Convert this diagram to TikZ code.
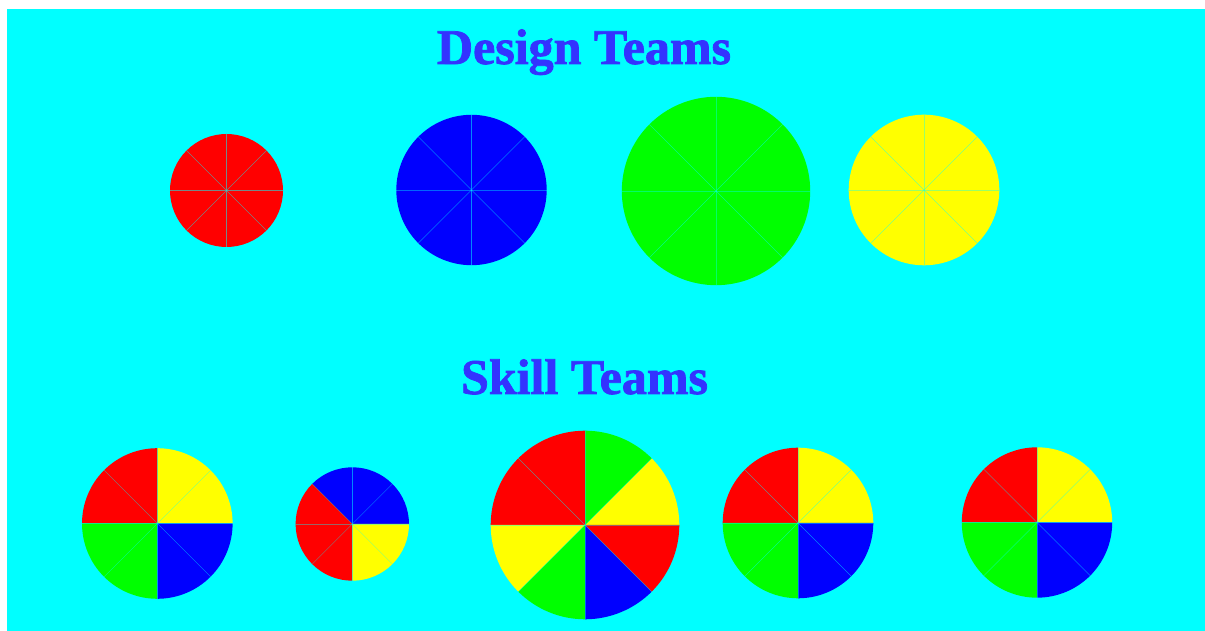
\documentclass[tikz,border=0pt]{standalone}
\usepackage{fontspec}
\setmainfont{Liberation Serif}
\newfontfamily\ttlfont{Liberation Serif Bold}[FakeBold=1.5]
\definecolor{bgcyan}{RGB}{0,255,255}
\definecolor{ttl}{RGB}{51,51,255}
\definecolor{pr}{RGB}{255,0,0}
\definecolor{pb}{RGB}{0,0,255}
\definecolor{pg}{RGB}{0,255,0}
\definecolor{py}{RGB}{255,255,0}
\tikzset{
  title/.style={font=\ttlfont\fontsize{50}{60}\selectfont, text=ttl, anchor=base, inner sep=0pt},
  seam/.style={draw=bgcyan, draw opacity=0.4, line width=0.4pt},
}
% #1 cx, #2 cy, #3 r, #4 start, #5 end, #6 colour
\newcommand\pieslice[6]{%
  \fill[#6] (#1pt,#2pt) -- ++(#4:#3pt) arc[start angle=#4, end angle=#5, radius=#3pt] -- cycle;}
% #1 cx #2 cy #3 r, then the eight 45-degree slice colours from east counterclockwise
\newcommand\pie[3]{\def\pcx{#1}\def\pcy{#2}\def\pr{#3}\pieB}
\newcommand\pieB[8]{%
  \pieslice{\pcx}{\pcy}{\pr}{0}{45}{#1}%
  \pieslice{\pcx}{\pcy}{\pr}{45}{90}{#2}%
  \pieslice{\pcx}{\pcy}{\pr}{90}{135}{#3}%
  \pieslice{\pcx}{\pcy}{\pr}{135}{180}{#4}%
  \pieslice{\pcx}{\pcy}{\pr}{180}{225}{#5}%
  \pieslice{\pcx}{\pcy}{\pr}{225}{270}{#6}%
  \pieslice{\pcx}{\pcy}{\pr}{270}{315}{#7}%
  \pieslice{\pcx}{\pcy}{\pr}{315}{360}{#8}%
  \foreach \a in {0,45,...,315} {\draw[seam] (\pcx pt,\pcy pt) -- ++(\a:\pr pt);}%
}
\begin{document}
\begin{tikzpicture}[x=1pt,y=1pt]
\useasboundingbox (0,0) rectangle (1205,631);
\fill[white] (0,0) rectangle (1205,631);
\fill[bgcyan] (7,0) rectangle (1205,622);

\node[title] (design) at (584,567) {Design Teams};
\node[title] (skill) at (584.5,237) {Skill Teams};

% design teams
\pie{226.5}{440.5}{56.5}{pr}{pr}{pr}{pr}{pr}{pr}{pr}{pr}
\pie{471.5}{441}{75.2}{pb}{pb}{pb}{pb}{pb}{pb}{pb}{pb}
\pie{716}{440}{94.2}{pg}{pg}{pg}{pg}{pg}{pg}{pg}{pg}
\pie{924}{441}{75.3}{py}{py}{py}{py}{py}{py}{py}{py}

% skill teams
\pie{157.3}{107.5}{75.3}{py}{py}{pr}{pr}{pg}{pg}{pb}{pb}
\pie{352.3}{107}{56.7}{pb}{pb}{pb}{pr}{pr}{pr}{py}{py}
\pie{585}{106}{94.3}{py}{pg}{pr}{pr}{py}{pg}{pb}{pr}
\pie{798}{108}{75.3}{py}{py}{pr}{pr}{pg}{pg}{pb}{pb}
\pie{1037}{108.5}{75.2}{py}{py}{pr}{pr}{pg}{pg}{pb}{pb}
\end{tikzpicture}
\end{document}
